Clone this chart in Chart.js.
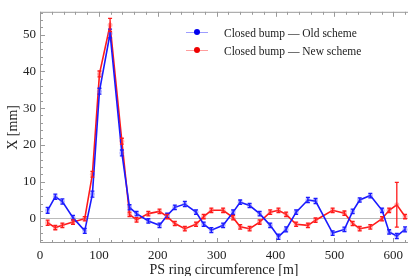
<!DOCTYPE html>
<html>
<head>
<meta charset="utf-8">
<script src="https://cdn.jsdelivr.net/npm/chart.js@4/dist/chart.umd.min.js"></script>
<style>
  body { margin: 0; background: #fff; }
  .wrap { position: relative; width: 412px; height: 276px; }
  .legend { position: absolute; left: 186px; top: 24px; font-family: 'Liberation Serif', serif; font-size: 11.5px; color: #222; }
  .legend .row { position: relative; height: 18px; line-height: 18px; padding-left: 38px; white-space: nowrap; }
  .legend .mk { position: absolute; left: 0; top: 8px; width: 22px; height: 1px; }
  .legend .mk i { position: absolute; left: 8px; top: -3px; width: 6px; height: 6px; border-radius: 50%; }
</style>
</head>
<body>
<div class="wrap">
  <canvas id="chart" width="412" height="276"></canvas>
  <div class="legend">
    <div class="row"><span class="mk" style="background:rgba(60,60,255,0.5)"><i style="background:#0000ee"></i></span>Closed bump — Old scheme</div>
    <div class="row"><span class="mk" style="background:rgba(255,60,60,0.5)"><i style="background:#ee0000"></i></span>Closed bump — New scheme</div>
  </div>
</div>
<script>
// positions along the ring [m]
const positions = [13, 26, 38, 56, 76, 89, 101, 119, 139, 152, 164, 184, 203, 216, 229, 246, 265, 278, 291, 311,
  328, 340, 356, 373, 391, 405, 418, 435, 455, 468, 497, 517, 531, 543, 561, 581, 593, 606, 620];

const oldScheme = [2.2, 5.9, 4.6, 0.2, -3.4, 6.6, 34.6, 50.3, 17.8, 3.0, 1.3, -0.7, -1.9, 0.8, 3.0, 3.9, 1.7, -1.6, -3.2, -1.9,
  1.7, 4.4, 3.5, 1.3, -1.9, -5.0, -3.0, 1.7, 5.0, 4.7, -4.0, -3.0, 1.9, 5.0, 6.2, 2.2, -3.7, -4.8, -3.0];
const oldErr = [0.8, 0.7, 0.7, 0.6, 0.7, 0.8, 0.8, 1.2, 0.8, 0.7, 0.6, 0.6, 0.6, 0.6, 0.6, 0.7, 0.6, 0.6, 0.7, 0.6,
  0.6, 0.6, 0.6, 0.6, 0.6, 0.7, 0.7, 0.6, 0.7, 0.7, 0.6, 0.6, 0.6, 0.6, 0.6, 0.6, 0.6, 0.7, 0.7];

const newScheme = [-1.2, -2.5, -1.9, -1.0, -0.1, 12.0, 39.3, 52.6, 21.0, 1.1, -0.4, 1.3, 1.9, 0.5, -1.4, -2.8, -1.6, 0.5, 2.2, 2.2,
  0.2, -2.3, -2.8, -1.0, 1.7, 2.2, 1.1, -1.6, -1.9, -0.5, 2.2, 1.4, -1.4, -2.8, -2.3, -0.1, 2.2, 3.7, 0.5];
const newErr = [0.7, 0.6, 0.6, 0.6, 0.6, 0.8, 0.8, 1.8, 0.8, 0.6, 0.6, 0.6, 0.6, 0.6, 0.6, 0.6, 0.6, 0.6, 0.6, 0.6,
  0.6, 0.6, 0.6, 0.6, 0.6, 0.6, 0.6, 0.6, 0.6, 0.6, 0.6, 0.6, 0.6, 0.6, 0.6, 0.6, 0.6, 6.1, 0.6];

const xTicks = [0, 100, 200, 300, 400, 500, 600];
const yTicks = [0, 10, 20, 30, 40, 50];

const serif = "'Liberation Serif', 'Times New Roman', serif";

// error bars, inward frame ticks, zero line
const framePlugin = {
  id: 'frame',
  beforeDatasetsDraw(chart) {
    const { ctx, chartArea: a, scales: { x, y } } = chart;
    ctx.save();
    ctx.strokeStyle = '#bbbbbb';
    ctx.lineWidth = 1;
    const y0 = Math.round(y.getPixelForValue(0)) + 0.5;
    ctx.beginPath(); ctx.moveTo(a.left, y0); ctx.lineTo(a.right, y0); ctx.stroke();

    ctx.strokeStyle = '#9a9a9a';
    ctx.beginPath();
    ctx.moveTo(a.left + 0.5, a.top + 0.5); ctx.lineTo(a.right, a.top + 0.5);
    ctx.moveTo(a.left + 0.5, a.top); ctx.lineTo(a.left + 0.5, a.bottom);
    ctx.moveTo(a.left, a.bottom - 0.5); ctx.lineTo(a.right, a.bottom - 0.5);
    for (let v = 0; v <= 620; v += 20) {
      const px = Math.round(x.getPixelForValue(v)) + 0.5;
      const len = v % 100 === 0 ? 5 : 3;
      ctx.moveTo(px, a.bottom); ctx.lineTo(px, a.bottom - len);
      ctx.moveTo(px, a.top); ctx.lineTo(px, a.top + len);
    }
    for (let v = -6; v <= 56; v += 2) {
      const py = Math.round(y.getPixelForValue(v)) + 0.5;
      const len = v % 10 === 0 ? 5 : 3;
      ctx.moveTo(a.left, py); ctx.lineTo(a.left + len, py);
    }
    ctx.stroke();
    ctx.restore();
  },
  afterDatasetsDraw(chart) {
    const { ctx, scales: { y } } = chart;
    const errs = [oldErr, newErr];
    ctx.save();
    chart.data.datasets.forEach((ds, i) => {
      const meta = chart.getDatasetMeta(i);
      ctx.strokeStyle = ds.borderColor;
      ctx.lineWidth = 1.3;
      meta.data.forEach((pt, j) => {
        const v = ds.data[j].y;
        const top = y.getPixelForValue(v + errs[i][j]);
        const bot = y.getPixelForValue(v - errs[i][j]);
        ctx.beginPath();
        ctx.moveTo(pt.x, top); ctx.lineTo(pt.x, bot);
        ctx.moveTo(pt.x - 2, top); ctx.lineTo(pt.x + 2, top);
        ctx.moveTo(pt.x - 2, bot); ctx.lineTo(pt.x + 2, bot);
        ctx.stroke();
      });
    });
    ctx.restore();
  }
};

new Chart(document.getElementById('chart').getContext('2d'), {
  type: 'line',
  data: {
    datasets: [
      {
        label: 'Closed bump — Old scheme',
        data: positions.map((p, i) => ({ x: p, y: oldScheme[i] })),
        borderColor: '#1a1aff',
        backgroundColor: 'rgba(90,90,255,0.45)',
        borderWidth: 1.6,
        pointRadius: 2.5,
        pointBorderWidth: 0,
        tension: 0,
      },
      {
        label: 'Closed bump — New scheme',
        data: positions.map((p, i) => ({ x: p, y: newScheme[i] })),
        borderColor: '#ff1a1a',
        backgroundColor: 'rgba(255,90,90,0.45)',
        borderWidth: 1.6,
        pointRadius: 2.5,
        pointBorderWidth: 0,
        tension: 0,
      },
    ],
  },
  options: {
    responsive: false,
    animation: false,
    devicePixelRatio: 1,
    layout: { padding: { top: 9, right: 0, left: 0, bottom: 0 } },
    plugins: { legend: { display: false }, tooltip: { enabled: false } },
    scales: {
      x: {
        type: 'linear',
        min: 0,
        max: 625,
        grid: { display: false, drawTicks: false, tickLength: 0 },
        border: { display: false },
        afterBuildTicks: axis => { axis.ticks = xTicks.map(v => ({ value: v })); },
        ticks: { color: '#222', padding: 5, font: { family: serif, size: 13 }, maxRotation: 0 },
        title: { display: true, text: 'PS ring circumference [m]', color: '#222', font: { family: serif, size: 14 }, padding: { top: 0, bottom: -3 } },
        afterFit: axis => { axis.height = 33; },
      },
      y: {
        min: -6.7,
        max: 56.2,
        grid: { display: false, drawTicks: false, tickLength: 0 },
        border: { display: false },
        afterBuildTicks: axis => { axis.ticks = yTicks.map(v => ({ value: v })); },
        ticks: { color: '#222', padding: 4, font: { family: serif, size: 13 } },
        title: { display: true, text: 'X [mm]', color: '#222', font: { family: serif, size: 14 }, padding: { top: 5, bottom: 0 } },
        afterFit: axis => { axis.width = 40; },
      },
    },
  },
  plugins: [framePlugin],
});
</script>
</body>
</html>
